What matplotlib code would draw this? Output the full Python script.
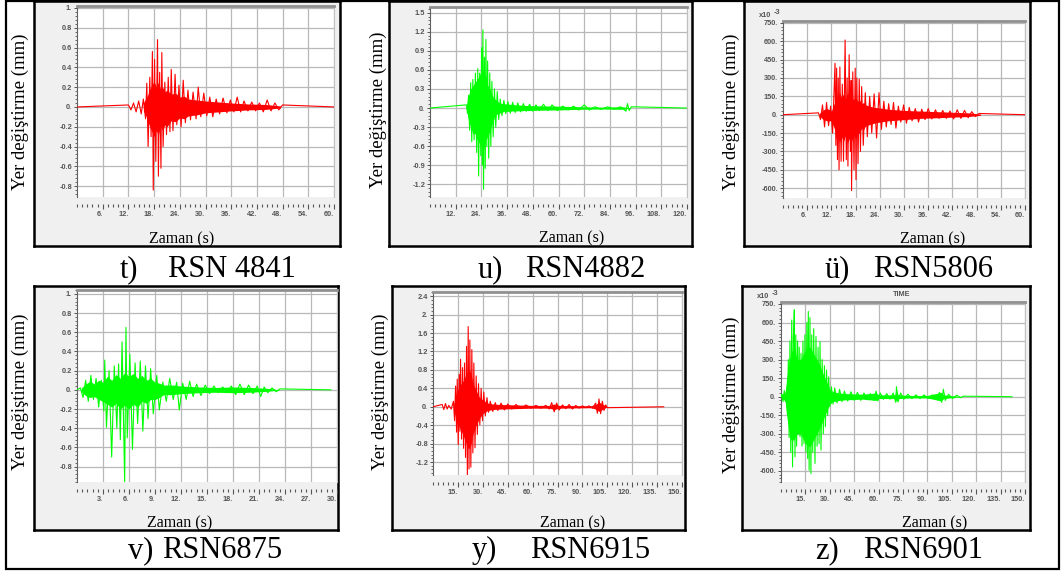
import matplotlib
matplotlib.use("Agg")
import matplotlib.pyplot as plt
from matplotlib.patches import Rectangle
from matplotlib.ticker import AutoMinorLocator, FixedLocator, FixedFormatter
import numpy as np

W, H = 1061, 574
RED = '#ff0000'
GREEN = '#00ff00'

# ---- t) RSN 4841  (mm) ----
t_pk_t = [12.0, 12.6, 13.2, 13.8, 14.4, 15.0, 15.5, 16.0, 16.3, 16.6, 17.0, 17.3, 17.6, 17.8, 18.1, 18.4,
          18.8, 19.0, 19.3, 19.6, 19.8, 20.1, 20.5, 20.9, 21.3, 21.7, 22.0, 22.4, 22.9, 23.3, 23.8, 24.3,
          24.8, 25.3, 25.9, 26.5, 27.1, 27.8, 28.3, 28.9, 29.6, 30.3, 31.0, 31.7, 32.5, 33.3, 34.1, 35.0,
          35.8, 36.6, 37.4, 38.2, 39.0, 39.9, 40.8, 41.7, 42.6, 43.5, 44.4, 45.3, 46.2, 47.1, 48.0]
t_pk_v = [0.02, -0.03, 0.04, -0.05, 0.06, -0.07, 0.08, -0.12, 0.24, -0.40, 0.30, -0.30, 0.56, -0.84, 0.48, -0.55,
          0.68, -0.70, 0.35, -0.62, 0.55, -0.40, 0.25, -0.28, 0.30, -0.25, 0.38, -0.24, 0.33, -0.18, 0.22, -0.20,
          0.27, -0.16, 0.17, -0.13, 0.15, -0.12, 0.20, -0.10, 0.14, -0.09, 0.10, -0.10, 0.08, -0.07, 0.09, -0.06,
          0.07, -0.05, 0.10, -0.05, 0.06, -0.04, 0.05, -0.04, 0.04, -0.05, 0.07, -0.04, 0.04, -0.03, 0.02]
t_env_t = [15.5, 16.0, 16.5, 17.0, 17.5, 18.0, 18.5, 19.0, 19.5, 20.0, 20.5, 21.0, 22, 23, 24, 25, 26, 28, 30,
           33, 36, 40, 44, 47.5]
t_env_hi = [0.04, 0.08, 0.12, 0.18, 0.22, 0.26, 0.2, 0.25, 0.18, 0.2, 0.15, 0.17, 0.13, 0.14, 0.1, 0.11, 0.08,
            0.07, 0.06, 0.05, 0.04, 0.03, 0.025, 0.01]
t_env_lo = [-0.04, -0.08, -0.14, -0.2, -0.25, -0.3, -0.24, -0.28, -0.2, -0.24, -0.18, -0.2, -0.14, -0.15, -0.11,
            -0.12, -0.09, -0.08, -0.06, -0.05, -0.04, -0.03, -0.025, -0.01]

# ---- u) RSN4882  (mm) ----
u_pk_t = [17.0, 17.5, 18.0, 18.5, 19.0, 19.5, 20.0, 20.6, 21.2, 21.8, 22.3, 22.7, 23.2, 23.7, 24.1, 24.4,
          24.7, 25.0, 25.4, 25.8, 26.1, 26.5, 26.9, 27.4, 27.9, 28.4, 28.9, 29.5, 30.1, 30.7, 31.4, 32.1,
          32.8, 33.6, 34.5, 35.4, 36.4, 37.5, 38.6, 39.8, 41.0, 42.3, 43.6, 45.0, 46.5, 48.0, 49.5, 51.0,
          53.0, 55.0, 57.0, 59.5, 62.0, 64.5, 67.0, 69.5, 72.0, 74.5, 77.0, 80.0, 83.0, 86.0, 89.0, 91.5,
          92.2, 93.0, 94.0]
u_pk_v = [0.05, -0.08, 0.20, -0.35, 0.40, -0.53, 0.45, -0.50, 0.55, -0.70, 0.62, -1.07, 0.55, -0.75, 0.95, -0.90,
          1.23, -1.28, 0.80, -0.95, 1.08, -0.60, 0.74, -0.79, 0.55, -0.60, 0.42, -0.45, 0.30, -0.30, 0.26, -0.18,
          0.14, -0.12, 0.12, -0.09, 0.10, -0.08, 0.09, -0.07, 0.08, -0.06, 0.07, -0.05, 0.06, -0.05, 0.05, -0.04,
          0.06, -0.04, 0.05, -0.04, 0.03, -0.03, 0.03, -0.03, 0.05, -0.03, 0.02, -0.02, 0.02, -0.02, 0.02, -0.05,
          0.07, -0.04, 0.02]
u_env_t = [17, 18, 19, 20, 21, 22, 23, 24, 25, 26, 27, 28, 29, 30, 31, 32.5, 34, 37, 40, 45, 50, 60, 70, 80, 90, 94]
u_env_hi = [0.03, 0.2, 0.3, 0.35, 0.4, 0.45, 0.5, 0.6, 0.6, 0.5, 0.35, 0.3, 0.2, 0.15, 0.12, 0.08, 0.07, 0.06,
            0.05, 0.04, 0.035, 0.03, 0.02, 0.015, 0.02, 0.0]
u_env_lo = [-0.03, -0.2, -0.3, -0.4, -0.4, -0.5, -0.55, -0.6, -0.65, -0.5, -0.45, -0.35, -0.25, -0.15, -0.1, -0.08,
            -0.06, -0.05, -0.045, -0.04, -0.035, -0.03, -0.02, -0.015, -0.02, 0.0]

# ---- ü) RSN5806  (x10^-3 mm) ----
ue_pk_t = [8.8, 9.3, 9.8, 10.3, 10.8, 11.3, 11.8, 12.3, 12.9, 13.1, 13.3, 13.5, 13.7, 13.9, 14.1, 14.4,
           14.7, 15.0, 15.4, 15.7, 15.9, 16.1, 16.4, 16.7, 16.9, 17.0, 17.3, 17.6, 17.9, 18.1, 18.3, 18.6,
           18.9, 19.2, 19.5, 19.9, 20.4, 20.9, 21.5, 22.0, 22.6, 23.2, 23.8, 24.4, 25.0, 25.6, 26.2, 26.8,
           27.4, 28.0, 28.6, 29.2, 29.9, 30.6, 31.3, 32.0, 32.8, 33.6, 34.4, 35.2, 36.0, 36.9, 37.8, 38.7,
           39.6, 40.5, 41.4, 42.3, 43.2, 44.1, 45.0, 45.9, 46.8, 47.7, 48.6]
ue_pk_v = [15, -40, 80, -100, 100, -90, 70, -150, 420, -250, 380, -367, 300, -450, 390, -380,
           250, -380, 610, -367, 300, -420, 490, -300, 280, -620, 350, -450, 380, -530, 300, -400,
           290, -300, 230, -250, 180, -180, 150, -150, 170, -190, 180, -120, 110, -100, 90, -80,
           100, -110, 70, -60, 80, -70, 60, -50, 50, -60, 45, -40, 50, -35, 40, -30,
           35, -30, 30, -35, 40, -30, 35, -25, 25, -15, 10]
ue_env_t = [9, 10, 11, 12, 12.8, 13.2, 13.6, 14.0, 14.5, 15.0, 15.5, 16.0, 16.5, 17.0, 17.5, 18.0, 18.5, 19.0,
            19.5, 20.0, 20.5, 21.5, 22.5, 24, 26, 28, 30, 34, 38, 42, 46, 49]
ue_env_hi = [10, 40, 50, 30, 100, 160, 120, 180, 140, 170, 130, 180, 150, 160, 120, 150, 110, 120, 90, 100, 80,
             70, 60, 55, 45, 40, 35, 30, 25, 20, 15, 5]
ue_env_lo = [-10, -40, -50, -50, -120, -200, -160, -230, -180, -220, -170, -230, -190, -220, -160, -200, -150,
             -150, -110, -120, -90, -80, -70, -60, -50, -45, -40, -30, -25, -20, -15, -5]

# ---- v) RSN6875  (mm) ----
v_pk_t = [0.4, 0.7, 1.0, 1.3, 1.6, 1.9, 2.2, 2.5, 2.8, 3.1, 3.2, 3.4, 3.7, 4.0, 4.3, 4.6,
          4.8, 5.0, 5.2, 5.5, 5.65, 5.8, 6.1, 6.4, 6.7, 7.0, 7.3, 7.6, 7.9, 8.2, 8.5, 8.8,
          9.2, 9.5, 9.9, 10.3, 10.7, 11.1, 11.5, 11.8, 12.2, 12.6, 13.0, 13.4, 13.8, 14.3, 14.8, 15.3,
          15.8, 16.3, 16.8, 17.3, 17.8, 18.3, 18.8, 19.3, 19.8, 20.3, 20.8, 21.2, 21.6, 22.0, 22.5, 23.0, 23.4]
v_pk_v = [0.02, -0.08, 0.10, -0.12, 0.15, -0.10, 0.12, -0.18, 0.10, -0.22, 0.31, -0.39, 0.20, -0.70, 0.25, -0.40,
          0.27, -0.52, 0.50, -0.96, 0.65, -0.50, 0.37, -0.62, 0.28, -0.35, 0.30, -0.43, 0.25, -0.30, 0.22, -0.25,
          0.15, -0.21, 0.08, -0.12, 0.12, -0.10, 0.08, -0.21, 0.07, -0.10, 0.09, -0.07, 0.06, -0.06, 0.05, -0.04,
          0.04, -0.03, 0.03, -0.03, 0.04, -0.05, 0.06, -0.05, 0.05, -0.04, 0.04, -0.07, 0.03, -0.03, 0.02, -0.02, 0.01]
v_env_t = [0.5, 1, 1.5, 2, 2.5, 3, 3.5, 4, 4.5, 5, 5.5, 6, 6.5, 7, 7.5, 8, 8.5, 9, 9.5, 10, 11, 12, 14, 16, 18,
           20, 22, 23.5]
v_env_hi = [0.02, 0.06, 0.09, 0.06, 0.1, 0.08, 0.14, 0.1, 0.16, 0.12, 0.18, 0.14, 0.17, 0.12, 0.15, 0.1, 0.12,
            0.08, 0.07, 0.05, 0.05, 0.04, 0.03, 0.025, 0.03, 0.025, 0.015, 0.0]
v_env_lo = [-0.02, -0.06, -0.08, -0.07, -0.1, -0.12, -0.15, -0.18, -0.14, -0.2, -0.16, -0.2, -0.15, -0.18, -0.12,
            -0.14, -0.1, -0.1, -0.08, -0.05, -0.05, -0.04, -0.03, -0.025, -0.03, -0.025, -0.015, 0.0]

# ---- y) RSN6915  (mm) ----
y_pk_t = [5.5, 6.5, 7.5, 8.5, 9.5, 11.0, 12.3, 13.0, 13.6, 14.2, 14.6, 15.2, 15.8, 16.2, 16.6, 17.2,
          17.8, 18.4, 19.0, 19.6, 20.2, 20.7, 21.2, 21.7, 22.2, 22.8, 23.4, 24.0, 24.6, 25.3, 26.0, 26.7,
          27.4, 28.2, 29.0, 29.8, 30.6, 31.5, 32.5, 33.5, 34.5, 36.0, 37.5, 39.0, 41.0, 43.0, 45.0, 47.5,
          50.0, 53.0, 56.0, 59.0, 62.0, 65.0, 68.0, 70.0, 71.5, 73.0, 74.5, 76.0, 78.0, 80.0, 82.0, 84.0,
          86.0, 88.0, 90.0, 92.0, 94.0, 96.0, 98.0, 99.0, 100.0, 101.0, 102.0, 103.0, 104.0, 105.0]
y_pk_v = [0.05, -0.06, 0.07, -0.05, 0.03, -0.05, 0.12, -0.30, 0.45, -0.55, 0.60, -0.82, 0.70, -0.53, 1.03, -0.70,
          0.85, -0.90, 0.95, -1.10, 1.31, -1.49, 1.74, -1.35, 1.45, -1.31, 1.24, -1.00, 0.95, -0.89, 0.67, -0.60,
          0.50, -0.39, 0.40, -0.30, 0.32, -0.20, 0.20, -0.12, 0.12, -0.10, 0.09, -0.08, 0.08, -0.07, 0.06, -0.05,
          0.05, -0.04, 0.04, -0.03, 0.03, -0.03, 0.03, -0.05, 0.09, -0.11, 0.08, -0.07, 0.04, -0.04, 0.05, -0.05,
          0.03, -0.03, 0.02, -0.02, 0.02, -0.03, 0.08, -0.14, 0.17, -0.15, 0.12, -0.08, 0.04, -0.02]
y_env_t = [12.5, 14, 16, 18, 20, 21, 22, 23, 24, 26, 28, 30, 33, 36, 40, 50, 60, 70, 73, 76, 85, 95, 98, 100, 102, 104.5]
y_env_hi = [0.05, 0.3, 0.45, 0.55, 0.7, 0.8, 0.8, 0.7, 0.5, 0.35, 0.2, 0.15, 0.08, 0.06, 0.05, 0.04, 0.03, 0.03,
            0.06, 0.03, 0.025, 0.02, 0.05, 0.1, 0.06, 0.01]
y_env_lo = [-0.05, -0.3, -0.45, -0.6, -0.8, -0.9, -0.9, -0.8, -0.6, -0.4, -0.25, -0.15, -0.08, -0.06, -0.05, -0.04,
            -0.03, -0.03, -0.06, -0.03, -0.025, -0.02, -0.05, -0.1, -0.06, -0.01]

# ---- z) RSN6901  (x10^-3 mm) ----
z_pk_t = [0.5, 1.2, 2.0, 2.8, 3.5, 4.0, 4.5, 5.0, 5.5, 6.0, 6.6, 7.1, 7.6, 8.2, 8.6, 9.1,
          9.6, 10.2, 10.7, 11.2, 11.7, 12.3, 12.9, 13.5, 14.1, 14.7, 15.3, 15.9, 16.4, 16.8, 17.3, 17.8,
          18.4, 18.9, 19.5, 20.1, 20.9, 21.5, 22.2, 22.8, 23.4, 24.0, 24.6, 25.3, 26.0, 26.7, 27.3, 28.0,
          28.7, 29.3, 30.0, 31.0, 32.0, 33.0, 34.5, 36.0, 37.5, 39.0, 41.0, 43.0, 45.0, 47.0, 49.0, 51.0,
          53.0, 55.0, 57.0, 58.5, 59.5, 61.0, 63.0, 65.0, 67.0, 69.0, 70.5, 71.0, 72.0, 73.5, 75.5, 78.0,
          80.5, 83.0, 85.5, 88.0, 90.5, 93.0, 95.5, 97.5, 98.8, 99.8, 101.0, 103.0, 105.5, 108.0, 110.5, 112.0]
z_pk_v = [20, -40, 50, -40, 60, -150, 300, -330, 450, -450, 620, -568, 480, 703, -486, 500,
          -400, 450, -300, 400, -324, 350, -400, 450, -380, 500, -450, 600, -500, 689, -595, 640,
          -622, 500, -450, 550, -540, 486, -400, 400, -380, 446, -432, 300, -300, 250, -243, 216,
          -150, 160, -81, 80, -60, 70, -50, 60, -40, 45, -35, 40, -30, 35, -30, 30,
          -25, 25, -30, 45, -35, 30, -20, 25, -20, 30, -45, 81, -41, 30, -20, 20,
          -15, 15, -15, 15, -15, 15, -20, 35, -45, 60, -30, 20, -15, 12, -8, 4]
z_env_t = [0.3, 2.5, 3.5, 4.5, 6, 8, 10, 12, 14, 16, 18, 20, 22, 24, 26, 28, 30, 32, 36, 40, 50, 58.5, 60, 70,
           71, 72, 80, 90, 98.5, 100, 105, 112]
z_env_hi = [20, 30, 150, 250, 350, 400, 300, 300, 350, 400, 400, 350, 300, 250, 180, 120, 60, 40, 30, 25, 20, 30,
            15, 15, 50, 15, 10, 10, 35, 15, 8, 0]
z_env_lo = [-20, -30, -150, -250, -350, -350, -300, -300, -350, -400, -400, -350, -300, -250, -180, -120, -60, -40,
            -30, -25, -20, -30, -15, -15, -40, -15, -10, -10, -35, -15, -8, 0]

captions = [('t)', 'RSN 4841'), ('u)', 'RSN4882'), ('ü)', 'RSN5806'),
            ('v)', 'RSN6875'), ('y)', 'RSN6915'), ('z)', 'RSN6901')]

YLABEL = 'Yer değiştirme (mm)'
XLABEL = 'Zaman (s)'


def fr(x0, y0, x1, y1):
    return [x0 / W, 1 - y1 / H, (x1 - x0) / W, (y1 - y0) / H]


def lab(v):
    if abs(v - round(v)) < 1e-9:
        return '%d.' % int(round(v))
    return ('%.1f' % v)


panels = [
    dict(box=(34, 1, 340, 246), area=(77, 6, 334, 197), xmax=60, xstep=6, ylim=(-0.91, 1.02),
         yt=np.arange(-0.8, 1.01, 0.2), col=RED, pk=(t_pk_t, t_pk_v), env=(t_env_t, t_env_hi, t_env_lo),
         span=(0, 60), yl=(20, 112), xl=(182, 243), cap=(120, 168, 277), x10=False, time=False),
    dict(box=(389, 1, 692, 246), area=(430, 7, 687, 197), xmax=120, xstep=12, ylim=(-1.40, 1.59),
         yt=np.arange(-1.2, 1.51, 0.3), col=GREEN, pk=(u_pk_t, u_pk_v), env=(u_env_t, u_env_hi, u_env_lo),
         span=(0, 120), yl=(378, 110), xl=(572, 242), cap=(478, 525, 277), x10=False, time=False),
    dict(box=(744, 1, 1030, 246), area=(783, 21, 1025, 198), xmax=60, xstep=6, ylim=(-680, 765),
         yt=np.arange(-600, 751, 150), col=RED, pk=(ue_pk_t, ue_pk_v), env=(ue_env_t, ue_env_hi, ue_env_lo),
         span=(0, 60), yl=(731, 112), xl=(933, 243), cap=(825, 873, 277), x10=True, time=False),
    dict(box=(34, 286, 338, 530), area=(77, 290, 337, 482), xmax=30, xstep=3, ylim=(-0.96, 1.04),
         yt=np.arange(-0.8, 1.01, 0.2), col=GREEN, pk=(v_pk_t, v_pk_v), env=(v_env_t, v_env_hi, v_env_lo),
         span=(0, 29.3), yl=(20, 392), xl=(180, 527), cap=(128, 162, 558), x10=False, time=False),
    dict(box=(392, 286, 685, 530), area=(433, 292, 682, 475), xmax=150, xstep=15, ylim=(-1.48, 2.49),
         yt=np.arange(-1.2, 2.41, 0.4), col=RED, pk=(y_pk_t, y_pk_v), env=(y_env_t, y_env_hi, y_env_lo),
         span=(0, 139), yl=(380, 392), xl=(573, 527), cap=(472, 530, 558), x10=False, time=False),
    dict(box=(742, 286, 1030, 530), area=(781, 302, 1025, 482), xmax=150, xstep=15, ylim=(-690, 766),
         yt=np.arange(-600, 751, 150), col=GREEN, pk=(z_pk_t, z_pk_v), env=(z_env_t, z_env_hi, z_env_lo),
         span=(0.3, 142), yl=(731, 395), xl=(935, 527), cap=(815, 863, 558), x10=True, time=True),
]

fig = plt.figure(figsize=(W / 100, H / 100), dpi=100)
fig.patch.set_facecolor('white')

# table outline
fig.patches.append(Rectangle((6 / W, 1 - 569 / H), 1053 / W, 568 / H, transform=fig.transFigure,
                             fill=False, edgecolor='black', lw=1.6, zorder=0))

TICK_FS = 5.3
tickfont = dict(family='Liberation Sans', size=TICK_FS, weight='bold', color='#555555')

for i, p in enumerate(panels):
    # gray screenshot frame
    bx = fig.add_axes(fr(*p['box']), zorder=0)
    bx.set_facecolor('#f0f0f0')
    bx.set_xticks([])
    bx.set_yticks([])
    for s in bx.spines.values():
        s.set_edgecolor('black')
        s.set_linewidth(1.8)

    ax = fig.add_axes(fr(*p['area']), zorder=1)
    ax.set_facecolor('white')
    ax.set_xlim(0, p['xmax'])
    ax.set_ylim(*p['ylim'])

    et, ehi, elo = p['env']
    ax.fill_between(et, elo, ehi, color=p['col'], lw=0, zorder=2)
    pt, pv = p['pk']
    xs = [p['span'][0]] + list(pt) + [p['span'][1]]
    ys = [0] + list(pv) + [0]
    ax.plot(xs, ys, color=p['col'], lw=0.8, zorder=3)

    xt = np.arange(p['xstep'], p['xmax'] + 0.01, p['xstep'])
    ax.xaxis.set_major_locator(FixedLocator(xt))
    ax.xaxis.set_major_formatter(FixedFormatter([lab(v) for v in xt]))
    ax.xaxis.set_minor_locator(AutoMinorLocator(5))
    yt = p['yt']
    ax.yaxis.set_major_locator(FixedLocator(yt))
    ax.yaxis.set_major_formatter(FixedFormatter([lab(v) for v in yt]))
    ax.yaxis.set_minor_locator(AutoMinorLocator(5))

    ax.grid(True, which='major', color='#b8b8b8', lw=0.9, zorder=1)
    ax.set_axisbelow(True)

    ax.spines['bottom'].set_position(('outward', 5))
    ax.spines['bottom'].set_visible(False)
    ax.spines['top'].set_color('#909090')
    ax.spines['top'].set_linewidth(2)
    ax.spines['right'].set_color('#c0c0c0')
    ax.spines['right'].set_linewidth(0.8)
    ax.spines['left'].set_color('#606060')
    ax.spines['left'].set_linewidth(0.8)

    ax.tick_params(axis='x', which='major', direction='out', length=3.4, width=0.8, color='#555555', pad=1.5)
    ax.tick_params(axis='x', which='minor', direction='out', length=2.0, width=0.8, color='#555555')
    ax.tick_params(axis='y', which='major', direction='out', length=2.5, width=0.7, color='#555555', pad=1)
    ax.tick_params(axis='y', which='minor', direction='out', length=1.4, width=0.6, color='#555555')
    for tl in ax.get_xticklabels() + ax.get_yticklabels():
        tl.set_fontproperties('Liberation Sans')
        tl.set_fontsize(TICK_FS)
        tl.set_fontweight('bold')
        tl.set_color('#555555')
    for tl in ax.get_xticklabels():
        tl.set_horizontalalignment('right')

    if p['x10']:
        x0, y0 = p['area'][0], p['area'][1]
        fig.text((x0 - 24) / W, 1 - (y0 - 4) / H, 'x10', fontdict=tickfont, ha='left', va='baseline')
        fig.text((x0 - 3) / W, 1 - (y0 - 7) / H, '-3', fontdict=tickfont, ha='right', va='baseline')
    if p['time']:
        fig.text(902 / W, 1 - 294 / H, 'TIME', fontdict=tickfont, ha='center', va='center')

    # labels and captions in the surrounding table
    fig.text(p['yl'][0] / W, 1 - p['yl'][1] / H, YLABEL, family='Liberation Serif', fontsize=13.5,
             rotation=90, ha='center', va='center')
    fig.text(p['xl'][0] / W, 1 - p['xl'][1] / H, XLABEL, family='Liberation Serif', fontsize=11.5,
             ha='center', va='baseline')
    c1, c2 = captions[i]
    fig.text(p['cap'][0] / W, 1 - p['cap'][2] / H, c1, family='Liberation Serif', fontsize=22,
             ha='left', va='baseline')
    fig.text(p['cap'][1] / W, 1 - p['cap'][2] / H, c2, family='Liberation Serif', fontsize=22,
             ha='left', va='baseline')

fig.savefig('out.png', dpi=100, facecolor='white')
